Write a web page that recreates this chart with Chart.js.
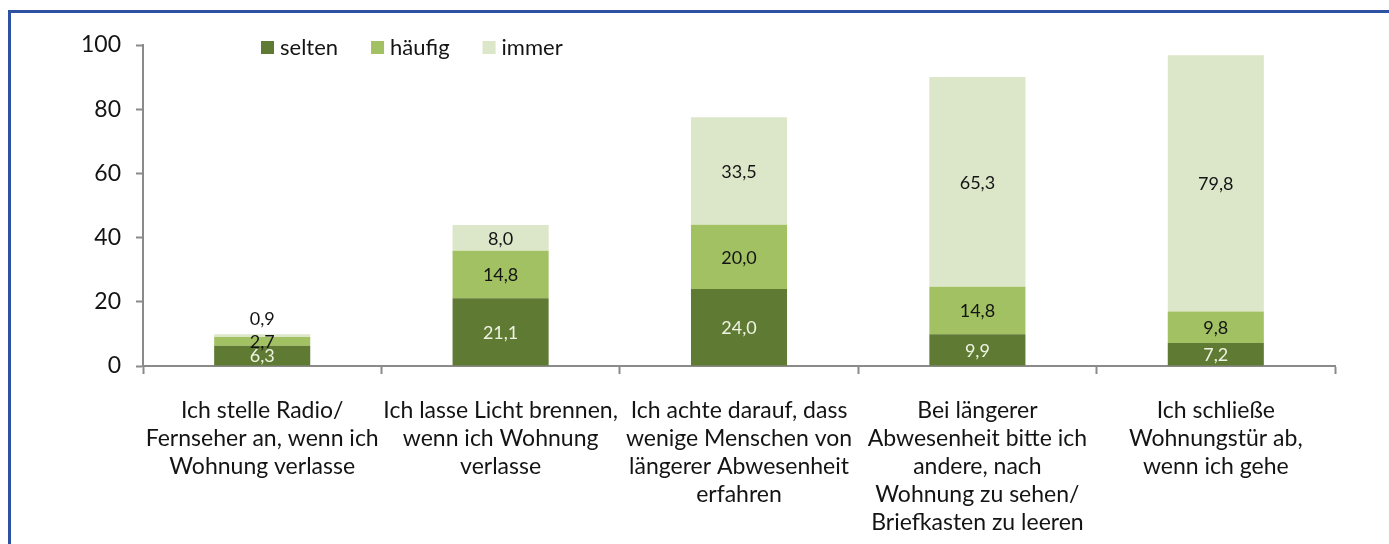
<!DOCTYPE html>
<html>
<head>
<meta charset="utf-8">
<script src="https://cdn.jsdelivr.net/npm/chart.js@4/dist/chart.umd.min.js"></script>
<style>
  html, body { margin: 0; padding: 0; background: #fff; }
  #wrap { position: relative; width: 1389px; height: 544px; }
  #frame { position: absolute; left: 8px; top: 10px; right: 0; bottom: 0;
           border-left: 3px solid #2d52a3; border-top: 3px solid #2d52a3; pointer-events: none; }
  canvas { position: absolute; left: 0; top: 0; }
</style>
</head>
<body>
<div id="wrap">
  <canvas id="c" width="1389" height="544"></canvas>
  <div id="frame"></div>
</div>
<script>
const categories = [
  ["Ich stelle Radio/", "Fernseher an, wenn ich", "Wohnung verlasse"],
  ["Ich lasse Licht brennen,", "wenn ich Wohnung", "verlasse"],
  ["Ich achte darauf, dass", "wenige Menschen von", "längerer Abwesenheit", "erfahren"],
  ["Bei längerer", "Abwesenheit bitte ich", "andere, nach", "Wohnung zu sehen/", "Briefkasten zu leeren"],
  ["Ich schließe", "Wohnungstür ab,", "wenn ich gehe"]
];
const selten = [6.3, 21.1, 24.0, 9.9, 7.2];
const haeufig = [2.7, 14.8, 20.0, 14.8, 9.8];
const immer = [0.9, 8.0, 33.5, 65.3, 79.8];
const seriesNames = ["selten", "häufig", "immer"];
const yTicks = [0, 20, 40, 60, 80, 100];

const FONT = "Lato";
const AXIS = "#8a8a8a";
const TEXT = "#141414";

const labelPlugin = {
  id: 'valueLabels',
  afterDatasetsDraw(chart) {
    const ctx = chart.ctx;
    ctx.save();
    ctx.font = "18px " + FONT;
    ctx.textAlign = 'center';
    ctx.textBaseline = 'middle';
    const n = chart.data.datasets.length;
    chart.data.datasets.forEach((ds, di) => {
      const meta = chart.getDatasetMeta(di);
      meta.data.forEach((el, i) => {
        const v = ds.data[i];
        const top = Math.min(el.y, el.base), bot = Math.max(el.y, el.base);
        let y = (top + bot) / 2;
        if (di === n - 1 && bot - top < 14) y = top - 16;
        ctx.fillStyle = di === 0 ? "#eef3e2" : TEXT;
        ctx.fillText(v.toFixed(1).replace('.', ','), el.x, y + 1);
      });
    });
    ctx.restore();
  }
};

const legendPlugin = {
  id: 'customLegend',
  afterDraw(chart) {
    const ctx = chart.ctx;
    ctx.save();
    ctx.font = "22px " + FONT;
    ctx.textBaseline = 'middle';
    let x = 261;
    const y = 48;
    chart.data.datasets.forEach(ds => {
      ctx.fillStyle = ds.backgroundColor;
      ctx.fillRect(x, y - 7, 13, 13);
      x += 19;
      ctx.fillStyle = TEXT;
      ctx.fillText(ds.label, x, y);
      x += ctx.measureText(ds.label).width + 33;
    });
    ctx.restore();
  }
};

new Chart(document.getElementById('c'), {
  type: 'bar',
  data: {
    labels: categories,
    datasets: [
      { label: seriesNames[0], data: selten, backgroundColor: "#5f7a33" },
      { label: seriesNames[1], data: haeufig, backgroundColor: "#a2c162" },
      { label: seriesNames[2], data: immer, backgroundColor: "#dce6c8" }
    ]
  },
  options: {
    responsive: false,
    animation: false,
    events: [],
    layout: { padding: { left: 0, top: 45, right: 54, bottom: 0 } },
    datasets: { bar: { categoryPercentage: 1, barPercentage: 0.403, borderWidth: 0 } },
    plugins: { legend: { display: false }, tooltip: { enabled: false } },
    scales: {
      x: {
        stacked: true,
        afterFit(s) { s.height = 178; },
        grid: { display: true, drawOnChartArea: false, drawTicks: true, tickLength: 8, tickWidth: 2, tickColor: AXIS, offset: true },
        border: { color: AXIS, width: 2 },
        ticks: { color: TEXT, font: { family: FONT, size: 23, lineHeight: 1.217 }, padding: 23, maxRotation: 0, autoSkip: false }
      },
      y: {
        stacked: true,
        min: 0, max: 100,
        afterFit(s) { s.width = 143; },
        afterBuildTicks(s) { s.ticks = yTicks.map(v => ({ value: v })); },
        grid: { display: true, drawOnChartArea: false, drawTicks: true, tickLength: 7, tickWidth: 2, tickColor: AXIS },
        border: { color: AXIS, width: 2 },
        ticks: { color: TEXT, font: { family: FONT, size: 23 }, padding: 15 }
      }
    }
  },
  plugins: [labelPlugin, legendPlugin]
});
</script>
</body>
</html>
